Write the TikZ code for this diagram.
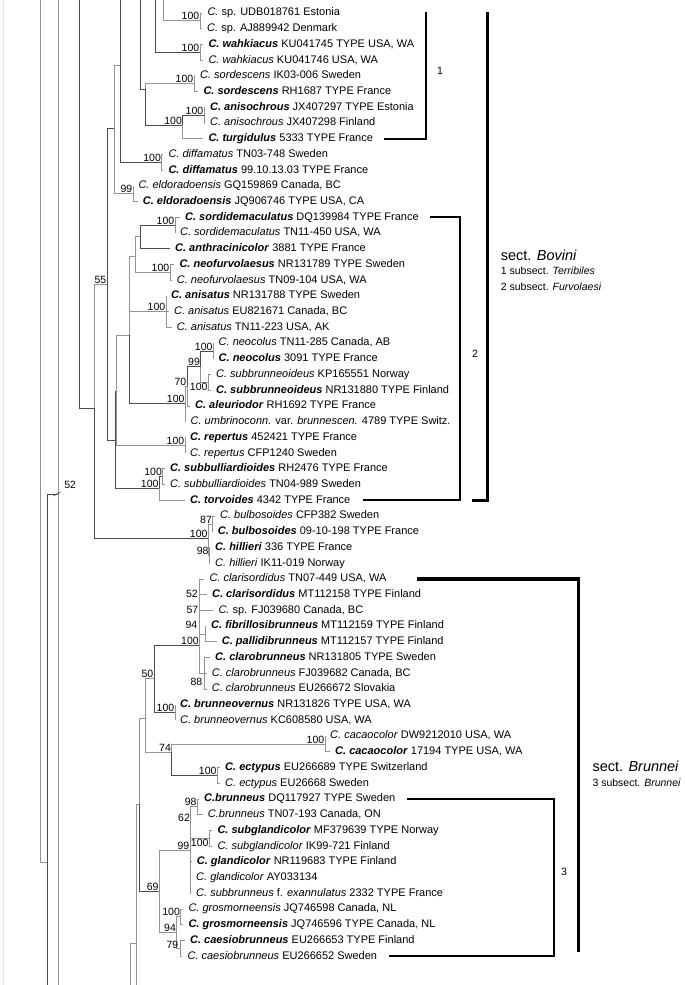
\documentclass[tikz,border=0pt]{standalone}
\usepackage{fontspec}
\setmainfont{Liberation Sans}
\newcommand{\bi}[1]{\textbf{\textit{#1}}}
\newcommand{\ii}[1]{\textit{#1}}

\begin{document}
\begin{tikzpicture}[
    x=1pt, y=-1pt,
    br/.style={draw=black!70, line width=0.8pt},
    brl/.style={draw=black!42, line width=0.8pt},
    faint/.style={draw=black!12, line width=0.8pt},
    leaf/.style={anchor=west, inner xsep=5pt, inner ysep=0pt, text height=8pt, text depth=2.3pt, font=\fontsize{11}{13}\selectfont},
    lab/.style={anchor=south east, inner sep=0.6pt, font=\fontsize{10.5}{12}\selectfont},
    secttext/.style={anchor=west, inner sep=0pt, font=\fontsize{14.5}{17}\selectfont},
    subtext/.style={anchor=west, inner sep=0pt, font=\fontsize{10.5}{12}\selectfont},
    bracket/.style={draw=black, line width=2.2pt},
    bigbracket/.style={draw=black, line width=3.6pt}
]
    \useasboundingbox (0,0) rectangle (685,985);

    % 叶节点 (61个)
    \foreach \i/\x/\t in {
        1/207.3/{\ii{C.} sp. UDB018761 Estonia},
        2/207/{\ii{C.} sp. AJ889942 Denmark},
        3/208.3/{\bi{C. wahkiacus} KU041745 TYPE USA, WA},
        4/208.3/{\ii{C. wahkiacus} KU041746 USA, WA},
        5/200/{\ii{C. sordescens} IK03-006 Sweden},
        6/203.3/{\bi{C. sordescens} RH1687 TYPE France},
        7/210/{\bi{C. anisochrous} JX407297 TYPE Estonia},
        8/210/{\ii{C. anisochrous} JX407298 Finland},
        9/208.3/{\bi{C. turgidulus} 5333 TYPE France},
        10/168.3/{\ii{C. diffamatus} TN03-748 Sweden},
        11/168.3/{\bi{C. diffamatus} 99.10.13.03 TYPE France},
        12/138.3/{\ii{C. eldoradoensis} GQ159869 Canada, BC},
        13/142.7/{\bi{C. eldoradoensis} JQ906746 TYPE USA, CA},
        14/185/{\bi{C. sordidemaculatus} DQ139984 TYPE France},
        15/180/{\ii{C. sordidemaculatus} TN11-450 USA, WA},
        16/175/{\bi{C. anthracinicolor} 3881 TYPE France},
        17/179.3/{\bi{C. neofurvolaesus} NR131789 TYPE Sweden},
        18/176.7/{\ii{C. neofurvolaesus} TN09-104 USA, WA},
        19/171/{\bi{C. anisatus} NR131788 TYPE Sweden},
        20/174/{\ii{C. anisatus} EU821671 Canada, BC},
        21/176.7/{\ii{C. anisatus} TN11-223 USA, AK},
        22/218.5/{\ii{C. neocolus} TN11-285 Canada, AB},
        23/218.5/{\bi{C. neocolus} 3091 TYPE France},
        24/216/{\ii{C. subbrunneoideus} KP165551 Norway},
        25/216/{\bi{C. subbrunneoideus} NR131880 TYPE Finland},
        26/195/{\bi{C. aleuriodor} RH1692 TYPE France},
        27/190.5/{\ii{C. umbrinoconn.} var. \ii{brunnescen.} 4789 TYPE Switz.},
        28/190/{\bi{C. repertus} 452421 TYPE France},
        29/190/{\ii{C. repertus} CFP1240 Sweden},
        30/170/{\bi{C. subbulliardioides} RH2476 TYPE France},
        31/170/{\ii{C. subbulliardioides} TN04-989 Sweden},
        32/190/{\bi{C. torvoides} 4342 TYPE France},
        33/220/{\ii{C. bulbosoides} CFP382 Sweden},
        34/217.7/{\bi{C. bulbosoides} 09-10-198 TYPE France},
        35/215/{\bi{C. hillieri} 336 TYPE France},
        36/215/{\ii{C. hillieri} IK11-019 Norway},
        37/209.3/{\ii{C. clarisordidus} TN07-449 USA, WA},
        38/212/{\bi{C. clarisordidus} MT112158 TYPE Finland},
        39/218.3/{\ii{C.} sp. FJ039680 Canada, BC},
        40/211/{\bi{C. fibrillosibrunneus} MT112159 TYPE Finland},
        41/221.7/{\bi{C. pallidibrunneus} MT112157 TYPE Finland},
        42/215/{\bi{C. clarobrunneus} NR131805 TYPE Sweden},
        43/211.7/{\ii{C. clarobrunneus} FJ039682 Canada, BC},
        44/211.7/{\ii{C. clarobrunneus} EU266672 Slovakia},
        45/180/{\bi{C. brunneovernus} NR131826 TYPE USA, WA},
        46/180/{\ii{C. brunneovernus} KC608580 USA, WA},
        47/330/{\ii{C. cacaocolor} DW9212010 USA, WA},
        48/335/{\bi{C. cacaocolor} 17194 TYPE USA, WA},
        49/225/{\bi{C. ectypus} EU266689 TYPE Switzerland},
        50/225/{\ii{C. ectypus} EU26668 Sweden},
        51/204/{\bi{C.brunneus} DQ117927 TYPE Sweden},
        52/207.7/{\ii{C.brunneus} TN07-193 Canada, ON},
        53/217.3/{\bi{C. subglandicolor} MF379639 TYPE Norway},
        54/217.3/{\ii{C. subglandicolor} IK99-721 Finland},
        55/196.7/{\bi{C. glandicolor} NR119683 TYPE Finland},
        56/196/{\ii{C. glandicolor} AY033134},
        57/196/{\ii{C. subbrunneus} f. \ii{exannulatus} 2332 TYPE France},
        58/188.3/{\ii{C. grosmorneensis} JQ746598 Canada, NL},
        59/188.3/{\bi{C. grosmorneensis} JQ746596 TYPE Canada, NL},
        60/190/{\bi{C. caesiobrunneus} EU266653 TYPE Finland},
        61/187.3/{\ii{C. caesiobrunneus} EU266652 Sweden}}{
        \node[leaf] (L\i) at ({\x-5}, {13+(\i-1)*15.72}) {\t};
    }

    % 截断的树干端点
    \coordinate (t3) at (3.3,0);     \coordinate (b3) at (3.3,985);
    \coordinate (t41) at (40.7,0);
    \coordinate (b48) at (47.7,985);
    \coordinate (t58) at (58.3,0);   \coordinate (b58) at (58.3,985);
    \coordinate (t79) at (79.3,0);
    \coordinate (t120) at (120,0);
    \coordinate (t140) at (140,0);
    \coordinate (t155) at (155,0);
    \coordinate (t163) at (163.3,0);
    \coordinate (b130) at (130,985);
    \coordinate (b137) at (136.7,985);

    % 内部节点: sect. Bovini
    \coordinate (n48) at (47.7,862);
    \coordinate (n58) at (58.3,494);
    \coordinate (nA) at (94,408);
    \coordinate (n55) at (107,284);
    \coordinate (n114) at (114,128.5);
    \coordinate (n120) at (120,65);
    \coordinate (nS) at (145,89);
    \coordinate (nSp) at (200,20.85);
    \coordinate (nWah) at (200,52.3);
    \coordinate (nSor) at (194,83.75);
    \coordinate (nAT) at (182.7,125);
    \coordinate (nAni) at (204,115.15);
    \coordinate (nDif) at (161.7,162.35);
    \coordinate (nEld) at (133,193.75);
    \coordinate (nFurv) at (115,440);
    \coordinate (nF1) at (116.7,391);
    \coordinate (nF2) at (129.3,335);
    \coordinate (nF3) at (135,256.5);
    \coordinate (nF4) at (140,236);
    \coordinate (nSord) at (175,225.25);
    \coordinate (nNeo) at (170,272.35);
    \coordinate (nAnis) at (166,311.7);
    \coordinate (nAle) at (185.3,403.5);
    \coordinate (n70) at (187,386);
    \coordinate (n99) at (200.7,366.7);
    \coordinate (nNeoc) at (213.3,351);
    \coordinate (nSubb) at (208.3,382.5);
    \coordinate (nRep) at (185,445.3);
    \coordinate (nSBT) at (159.3,488);
    \coordinate (nSB) at (162.7,476.75);
    \coordinate (nBH) at (208.3,538);
    \coordinate (nBul) at (212.7,523.9);
    \coordinate (nHil) at (209.3,555.3);

    % 内部节点: sect. Brunnei
    \coordinate (n137) at (136.7,943);
    \coordinate (nB1) at (139.3,804);
    \coordinate (nB2) at (145,718);
    \coordinate (n50) at (154,678.5);
    \coordinate (nB100) at (199.5,645);
    \coordinate (n94) at (205,633.9);
    \coordinate (n88) at (204,673.2);
    \coordinate (nBrv) at (175,712.5);
    \coordinate (n74) at (171.7,752);
    \coordinate (nCac) at (325,743.95);
    \coordinate (nEct) at (217.3,775.35);
    \coordinate (n69) at (159.3,891);
    \coordinate (n99b) at (190,850);
    \coordinate (n62) at (190.7,822);
    \coordinate (n98) at (197.3,806.8);
    \coordinate (n100c) at (209.3,838.25);
    \coordinate (n94b) at (176.7,932.5);
    \coordinate (n100d) at (180.7,916.85);
    \coordinate (n79) at (180,948.25);

    % 分支 (父节点 |- 子节点)
    \draw[faint] (t3) -- (b3);
    \foreach \pa/\ch/\st in {
        t41/n48/brl, n48/b48/br, n48/n58/br, t58/b58/brl, t79/nA/br,
        t120/n120/br, t140/nS/br, t155/nWah/br, t163/nSp/brl,
        b130/n137/brl, n137/b137/brl, n137/nB1/brl,
        nA/n55/brl, nA/nBH/br, n55/n114/br, n55/nFurv/br,
        n114/n120/brl, n114/nEld/brl, n120/nDif/br,
        nS/nSor/brl, nS/nAT/br,
        nSp/L1.west/brl, nSp/L2.west/brl,
        nWah/L3.west/brl, nWah/L4.west/brl,
        nSor/L5.west/brl, nSor/L6.west/brl,
        nAT/nAni/br, nAT/L9.west/brl,
        nAni/L7.west/brl, nAni/L8.west/brl,
        nDif/L10.west/brl, nDif/L11.west/brl,
        nEld/L12.west/brl, nEld/L13.west/brl,
        nFurv/nF1/br, nFurv/nSBT/br,
        nF1/nF2/brl, nF1/nRep/brl,
        nF2/nF3/brl, nF2/nAnis/brl, nF2/nAle/br,
        nF3/nF4/brl, nF3/nNeo/brl,
        nF4/nSord/br, nF4/L16.west/br,
        nSord/L14.west/brl, nSord/L15.west/brl,
        nNeo/L17.west/brl, nNeo/L18.west/brl,
        nAnis/L19.west/brl, nAnis/L20.west/brl, nAnis/L21.west/brl,
        nAle/n70/brl, nAle/L27.west/brl,
        n70/n99/br, n70/L26.west/brl,
        n99/nNeoc/br, n99/nSubb/brl,
        nNeoc/L22.west/brl, nNeoc/L23.west/brl,
        nSubb/L24.west/brl, nSubb/L25.west/brl,
        nRep/L28.west/brl, nRep/L29.west/brl,
        nSBT/nSB/br, nSBT/L32.west/brl,
        nSB/L30.west/brl, nSB/L31.west/brl,
        nBH/nBul/brl, nBH/nHil/brl,
        nBul/L33.west/brl, nBul/L34.west/brl,
        nHil/L35.west/brl, nHil/L36.west/brl,
        nB1/nB2/brl, nB1/n69/br,
        nB2/n50/brl, nB2/n74/brl,
        n50/nB100/br, n50/nBrv/br,
        nB100/L37.west/brl, nB100/L38.west/brl, nB100/L39.west/brl,
        nB100/n94/brl, nB100/n88/brl,
        n94/L40.west/brl, n94/L41.west/brl,
        n88/L42.west/brl, n88/L43.west/brl, n88/L44.west/brl,
        nBrv/L45.west/brl, nBrv/L46.west/brl,
        n74/nCac/brl, n74/nEct/br,
        nCac/L47.west/brl, nCac/L48.west/brl,
        nEct/L49.west/brl, nEct/L50.west/brl,
        n69/n99b/brl, n69/n94b/brl,
        n99b/n62/brl, n99b/L55.west/brl, n99b/L56.west/brl, n99b/L57.west/brl,
        n62/n98/brl, n62/n100c/brl,
        n98/L51.west/brl, n98/L52.west/brl,
        n100c/L53.west/brl, n100c/L54.west/brl,
        n94b/n100d/brl, n94b/n79/brl,
        n100d/L58.west/brl, n100d/L59.west/brl,
        n79/L60.west/brl, n79/L61.west/brl}{
        \draw[\st] (\pa) |- (\ch);
    }

    % 支持率标签
    \foreach \n/\v in {
        nSp/100, nWah/100, nSor/100, nAni/100, nAT/100, nDif/100, nEld/99,
        n55/55, nSord/100, nNeo/100, nAnis/100, nNeoc/100, n99/99, n70/70,
        nAle/100, nRep/100, nSB/100, nSBT/100, nBul/87, nBH/100, nHil/98,
        nB100/100, nBrv/100, n50/50, nCac/100, nEct/100, n74/74,
        n98/98, n62/62, n99b/99, n69/69, n100d/100, n94b/94}{
        \node[lab] at (\n) {\v};
    }
    \node[lab, anchor=north east] at (nSubb) {100};
    \node[lab, anchor=north east] at (n100c) {100};
    \node[lab, anchor=north east] at (203,677) {88};
    \node[lab, anchor=east] at (179,945) {79};
    \node[lab, anchor=east] at (198.5,594) {52};
    \node[lab, anchor=east] at (199,610) {57};
    \node[lab, anchor=east] at (198,625) {94};
    \node[lab, anchor=west] (l52) at (63.5,485) {52};
    \draw[black!70, line width=0.6pt] (53.5,496) -- (60.5,492);

    % 亚组括号 1, 2, 3
    \draw[bracket] ([xshift=6pt]L9.east) -| (426,11.7);
    \node[subtext] (g1) at (437,71) {1};
    \draw[bracket] ([xshift=6pt]L14.east) -| (460,0 |- L32) -- ([xshift=7pt]L32.east);
    \node[subtext] (g2) at (472,354) {2};
    \draw[bracket] ([xshift=6pt]L51.east) -| (554,0 |- L61) -- ([xshift=7pt]L61.east);
    \node[subtext] (g3) at (561,871.7) {3};

    % 组括号与说明
    \draw[bigbracket] (471.7,0 |- L32) -| (487.3,11.7);
    \node[secttext] (sBov) at (500.7,255) {sect. \textit{Bovini}};
    \node[subtext] (sTer) at (500.7,271) {1 subsect. \textit{Terribiles}};
    \node[subtext] (sFur) at (500.7,287) {2 subsect. \textit{Furvolaesi}};
    \draw[bigbracket] ([xshift=25pt]L37.east) -| (578.3,952);
    \node[secttext] (sBru) at (592.3,766.7) {sect. \textit{Brunnei}};
    \node[subtext] (sBr3) at (592.3,782.7) {3 subsect. \textit{Brunnei}};
\end{tikzpicture}
\end{document}
